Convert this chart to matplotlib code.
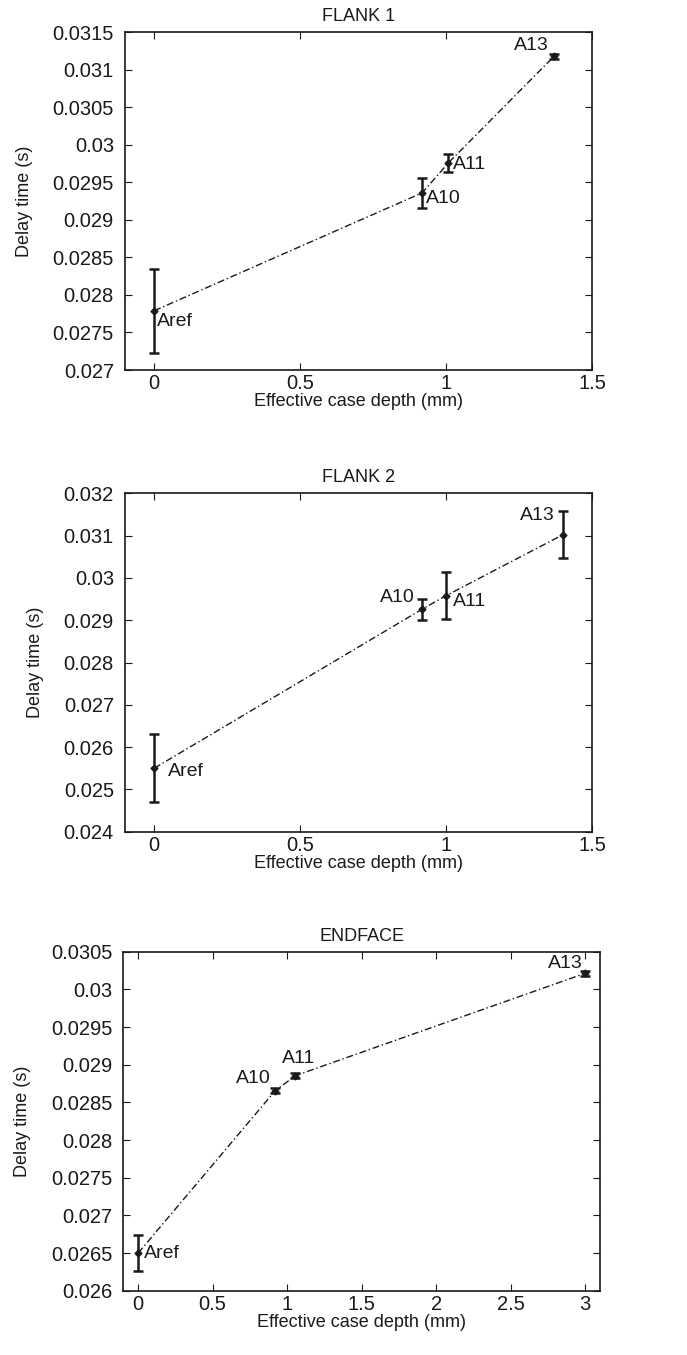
import matplotlib
matplotlib.use("Agg")
import matplotlib.pyplot as plt
from matplotlib.ticker import FuncFormatter

plt.rcParams['font.family'] = ['Liberation Sans', 'DejaVu Sans']

labels = ["Aref", "A10", "A11", "A13"]

f1_x = [0.0, 0.918, 1.008, 1.37]
f1_y = [0.02779, 0.02936, 0.02976, 0.03118]
f1_err = [0.00056, 0.0002, 0.00012, 0.00003]

f2_x = [0.0, 0.918, 1.0, 1.4]
f2_y = [0.0255, 0.02926, 0.02958, 0.03102]
f2_err = [0.0008, 0.00025, 0.00055, 0.00055]

e_x = [0.0, 0.92, 1.055, 3.0]
e_y = [0.0265, 0.028655, 0.028854, 0.030213]
e_err = [0.00024, 0.00003, 0.00003, 0.00003]

titles = ["FLANK 1", "FLANK 2", "ENDFACE"]
ylims = [(0.027, 0.0315), (0.024, 0.032), (0.026, 0.0305)]
ysteps = [0.0005, 0.001, 0.0005]
xlims = [(-0.1, 1.5), (-0.1, 1.5), (-0.1, 3.1)]
xticks = [[0, 0.5, 1, 1.5], [0, 0.5, 1, 1.5], [0, 0.5, 1, 1.5, 2, 2.5, 3]]

# label offsets in points (dx, dy, ha, va)
offs = [
    [(2, -2, 'left', 'top'), (3, -4, 'left', 'center'), (3, -1, 'left', 'center'), (-4, 2, 'right', 'bottom')],
    [(10, -2, 'left', 'center'), (-5, 2, 'right', 'bottom'), (5, -4, 'left', 'center'), (-6, 8, 'right', 'bottom')],
    [(4, 0, 'left', 'center'), (-3, 3, 'right', 'bottom'), (2, 6, 'center', 'bottom'), (-2, 1, 'right', 'bottom')],
]

rects = [
    [125/687, 1-370/1355, (592-125)/687, (370-32.3)/1355],
    [125/687, 1-831.7/1355, (592-125)/687, (831.7-493.3)/1355],
    [123.3/687, 1-1290.7/1355, (600-123.3)/687, (1290.7-951.7)/1355],
]

fig = plt.figure(figsize=(6.87, 13.55), dpi=100)
data = [(f1_x, f1_y, f1_err), (f2_x, f2_y, f2_err), (e_x, e_y, e_err)]
fs_tick = 14.5
fs_lab = 13
fs_ann = 14
ink = '#1a1a1a'
for i, (xs, ys, es) in enumerate(data):
    ax = fig.add_axes(rects[i])
    ax.plot(xs, ys, color=ink, lw=1.0, ls=(0, (5, 2, 1, 2)), zorder=2)
    ax.errorbar(xs, ys, yerr=es, fmt='D', ms=3.5, color=ink, mfc=ink,
                ecolor=ink, elinewidth=1.8, capsize=3.5, capthick=1.8, zorder=3)
    for j, lab in enumerate(labels):
        dx, dy, ha, va = offs[i][j]
        ax.annotate(lab, (xs[j], ys[j]), xytext=(dx, dy), textcoords='offset points',
                    ha=ha, va=va, fontsize=fs_ann, color=ink)
    ax.set_xlim(*xlims[i])
    ax.set_ylim(*ylims[i])
    ax.set_xticks(xticks[i])
    lo, hi = ylims[i]
    n = int(round((hi - lo) / ysteps[i]))
    ax.set_yticks([lo + k * ysteps[i] for k in range(n + 1)])
    ax.yaxis.set_major_formatter(FuncFormatter(lambda v, p: ('%.4f' % v).rstrip('0').rstrip('.')))
    ax.xaxis.set_major_formatter(FuncFormatter(lambda v, p: ('%.1f' % v).rstrip('0').rstrip('.')))
    ax.tick_params(direction='in', top=True, right=True, length=5, width=0.8,
                   labelsize=fs_tick, colors=ink)
    ax.tick_params(axis='y', pad=8)
    ax.tick_params(axis='x', pad=3)
    for s in ax.spines.values():
        s.set_linewidth(1.2)
        s.set_color(ink)
    ax.set_title(titles[i], fontsize=fs_lab, color=ink, pad=8)
    ax.set_xlabel("Effective case depth (mm)", fontsize=fs_lab, color=ink, labelpad=0)
    ax.set_ylabel("Delay time (s)", fontsize=fs_lab, color=ink, labelpad=14)

fig.savefig("out.png", dpi=100)
